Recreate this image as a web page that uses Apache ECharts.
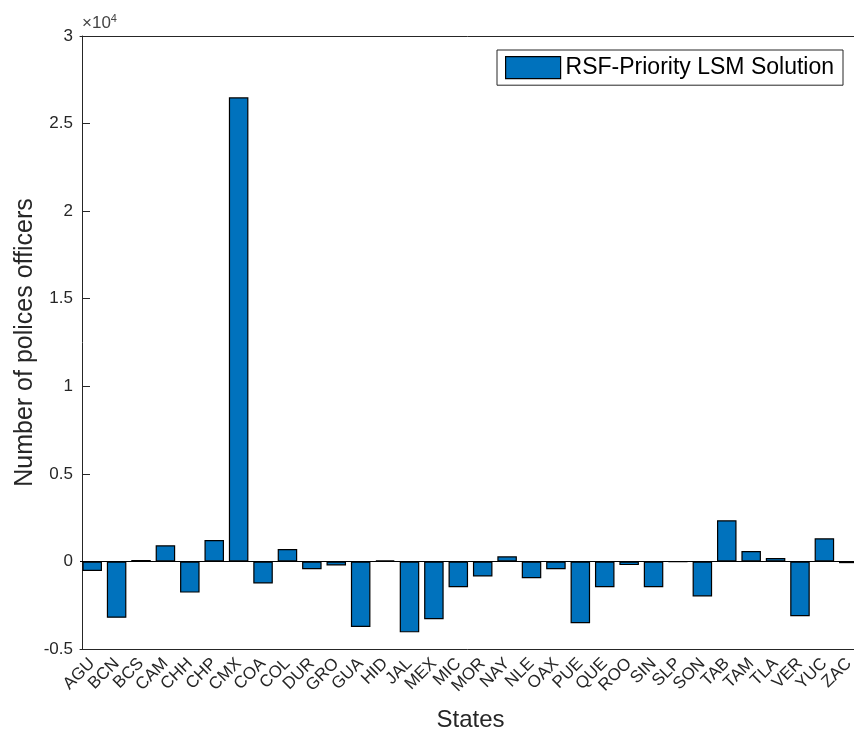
<!DOCTYPE html>
<html>
<head>
<meta charset="utf-8">
<title>Number of polices officers</title>
<script src="https://cdn.jsdelivr.net/npm/echarts@6/dist/echarts.min.js"></script>
<style>
	html, body { margin:0; padding:0; background:#fff; }
	#main { width:854px; height:735px; }
</style>
</head>
<body>
<div id="main"></div>
<script type="text/javascript">
	// data
	var states = ['AGU','BCN','BCS','CAM','CHH','CHP','CMX','COA','COL','DUR','GRO','GUA','HID','JAL','MEX','MIC',
		'MOR','NAY','NLE','OAX','PUE','QUE','ROO','SIN','SLP','SON','TAB','TAM','TLA','VER','YUC','ZAC'];
	var officers = [-540, -3220, 80, 920, -1780, 1225, 26500, -1260, 710, -440, -230, -3740, 60, -4050, -3300, -1470,
		-860, 290, -955, -440, -3530, -1470, -210, -1470, -20, -2000, 2350, 590, 190, -3130, 1320, -100];
	var seriesName = 'RSF-Priority LSM Solution';
	var yTicks = [-5000, 30000, 5000]; // min, max, step

	var font = 'Liberation Sans, Arial, Helvetica, sans-serif';
	var ink = '#262626';

	var myChart = echarts.init(document.getElementById('main'));
	var option = {
		animation : false,
		backgroundColor : '#fff',
		textStyle : { fontFamily : font, color : ink },
		grid : {
			left : 80,
			top : 36,
			width : 781,
			height : 613,
			outerBoundsMode : 'none',
			containLabel : false
		},
		legend : {
			left : 497,
			top : 50,
			padding : [6, 9, 6, 8],
			borderColor : ink,
			borderWidth : 1,
			itemWidth : 55,
			itemHeight : 22,
			itemGap : 0,
			icon : 'rect',
			data : [seriesName],
			itemStyle : { color : '#0072BD', borderColor : '#000', borderWidth : 1.2 },
			textStyle : { fontFamily : font, fontSize : 23, color : '#000' }
		},
		// exponent above the y axis
		graphic : [{
			type : 'text',
			left : 82,
			top : 13,
			style : {
				text : '×10{s|4}',
				font : '17px ' + font,
				fill : '#444',
				rich : { s : { fontSize : 11, fill : '#444', verticalAlign : 'top', padding : [0, 0, 9, 0] } }
			}
		}],
		xAxis : [{
			type : 'category',
			data : states,
			position : 'bottom',
			boundaryGap : true,
			axisLine : { onZero : false, lineStyle : { color : ink, width : 1 } },
			axisTick : { inside : true, length : 7, alignWithLabel : true, lineStyle : { color : ink } },
			axisLabel : { rotate : 45, fontSize : 17, color : ink, margin : 12, interval : 0, fontFamily : font },
			splitLine : { show : false },
			name : 'States',
			nameLocation : 'middle',
			nameGap : 59,
			nameMoveOverlap : false,
			nameTextStyle : { fontSize : 24, color : ink, fontFamily : font }
		}, {
			// top edge of the box
			type : 'category',
			data : states,
			position : 'top',
			boundaryGap : true,
			axisLine : { onZero : false, lineStyle : { color : ink, width : 1 } },
			axisTick : { inside : true, length : 7, alignWithLabel : true, lineStyle : { color : ink } },
			axisLabel : { show : false },
			splitLine : { show : false }
		}],
		yAxis : {
			type : 'value',
			min : yTicks[0],
			max : yTicks[1],
			interval : yTicks[2],
			offset : -2,
			axisLine : { show : true, lineStyle : { color : ink, width : 1 } },
			axisTick : { show : true, inside : true, length : 8, lineStyle : { color : ink } },
			axisLabel : {
				fontSize : 17,
				color : ink,
				margin : 9,
				fontFamily : font,
				formatter : function(value) {
					return String(value / 10000);
				}
			},
			splitLine : { show : false },
			name : 'Number of polices officers',
			nameLocation : 'middle',
			nameGap : 44,
			nameMoveOverlap : false,
			nameTextStyle : { fontSize : 25, color : ink, fontFamily : font }
		},
		series : [{
			name : seriesName,
			type : 'bar',
			data : officers,
			barWidth : '80%',
			itemStyle : { color : '#0072BD', borderColor : '#000', borderWidth : 1.2 },
			markLine : {
				silent : true,
				symbol : 'none',
				label : { show : false },
				lineStyle : { color : '#000', width : 1, type : 'solid' },
				data : [{ yAxis : 0 }]
			}
		}]
	};
	myChart.setOption(option);
</script>
</body>
</html>
